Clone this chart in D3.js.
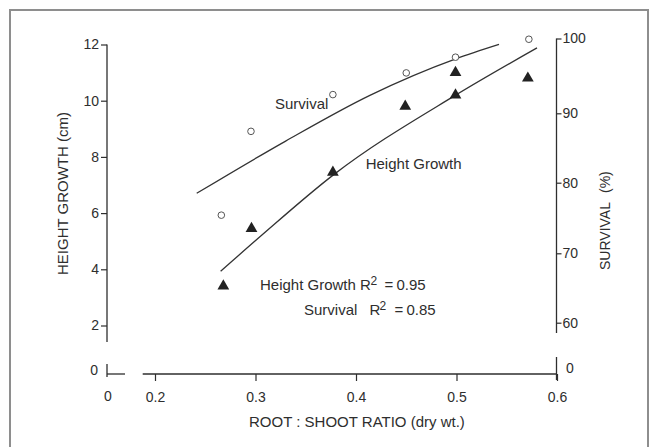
<!DOCTYPE html>
<html><head><meta charset="utf-8">
<script src="https://cdn.jsdelivr.net/npm/d3@7"></script>
<style>
html,body{margin:0;padding:0;background:#fff;}
svg{display:block;font-family:"Liberation Sans",Arial,Helvetica,sans-serif;}
</style></head><body>
<svg id="chart" width="653" height="447"></svg>
<script>
// ---- data ----
const xTicks = [0.2, 0.3, 0.4, 0.5, 0.6];
const heightTicks = [2, 4, 6, 8, 10, 12];
const survivalTicks = [60, 70, 80, 90, 100];

// Height growth observations (filled triangles), cm
const heightX   = [0.268, 0.296, 0.377, 0.449, 0.499, 0.499, 0.571];
const heightVal = [3.4, 5.45, 7.45, 9.8, 11.0, 10.2, 10.8];

// Survival observations (open circles), %
const survX   = [0.266, 0.2955, 0.377, 0.450, 0.499, 0.572];
const survVal = [75.4, 87.4, 92.5, 95.4, 97.5, 99.9];

// Fitted curves, points
const heightFitX   = [0.2653, 0.3061, 0.3775, 0.4983, 0.5801];
const heightFitVal = [3.93, 5.21, 7.36, 10.18, 11.88];
const survFitX   = [0.2415, 0.33, 0.4138, 0.4993, 0.5423];
const survFitVal = [78.5, 86.0, 92.4, 97.28, 99.2];

// ---- drawing ----
const ink = "#2e2e2e";
const svg = d3.select("#chart");
svg.append("rect").attr("width", 653).attr("height", 447).attr("fill", "#fff");
svg.append("rect").attr("x", 10).attr("y", 10).attr("width", 638).attr("height", 470)
  .attr("fill", "none").attr("stroke", "#8e8e8e").attr("stroke-width", 2);

const x  = d3.scaleLinear().domain([0.2, 0.6]).range([155, 557]);
const yH = d3.scaleLinear().domain([2, 12]).range([325.5, 44.5]);
const yS = d3.scaleLinear().domain([60, 70, 80, 90, 100]).range([322.7, 253.3, 182.7, 113.3, 38.5]);

const baseY = 374, leftX = 107, rightX = 556.5;

function styleAxis(g) {
  g.select(".domain").remove();
  g.selectAll("line").attr("stroke", ink).attr("stroke-width", 1.2);
  g.selectAll("text").attr("fill", ink).style("font-size", "14px")
    .style("font-family", '"Liberation Sans",Arial,sans-serif');
}

// left axis
const gL = svg.append("g").attr("transform", `translate(${leftX},0)`)
  .call(d3.axisLeft(yH).tickValues(heightTicks).tickSize(6).tickPadding(2));
styleAxis(gL);
svg.append("line").attr("x1", leftX).attr("x2", leftX).attr("y1", yH(12)).attr("y2", 342)
  .attr("stroke", ink).attr("stroke-width", 1.3);

// right axis
const gR = svg.append("g").attr("transform", `translate(${rightX},0)`)
  .call(d3.axisRight(yS).tickValues(survivalTicks).tickSize(5).tickPadding(1));
styleAxis(gR);
svg.append("line").attr("x1", rightX).attr("x2", rightX).attr("y1", yS(100)).attr("y2", 333)
  .attr("stroke", ink).attr("stroke-width", 1.3);

// bottom axis
const gB = svg.append("g").attr("transform", `translate(0,${baseY})`)
  .call(d3.axisBottom(x).tickValues(xTicks).tickSize(7).tickPadding(11).tickFormat(d3.format(".1f")));
styleAxis(gB);
svg.append("line").attr("x1", 142.7).attr("x2", x(0.6)).attr("y1", baseY).attr("y2", baseY)
  .attr("stroke", ink).attr("stroke-width", 1.3);

// broken-axis zero pieces
svg.append("line").attr("x1", leftX).attr("x2", leftX).attr("y1", 364).attr("y2", 377)
  .attr("stroke", ink).attr("stroke-width", 1.3);
svg.append("line").attr("x1", leftX).attr("x2", 125).attr("y1", baseY).attr("y2", baseY)
  .attr("stroke", ink).attr("stroke-width", 1.3);
svg.append("line").attr("x1", rightX).attr("x2", rightX).attr("y1", 357).attr("y2", 380)
  .attr("stroke", ink).attr("stroke-width", 1.3);

const zeroFont = t => t.attr("fill", ink).style("font-size", "14px");
svg.append("text").attr("x", 98).attr("y", 371).attr("dy", "0.32em").attr("text-anchor", "end").text("0").call(zeroFont);
svg.append("text").attr("x", 566).attr("y", 369).attr("dy", "0.32em").text("0").call(zeroFont);
svg.append("text").attr("x", leftX + 1).attr("y", 397).attr("dy", "0.32em").attr("text-anchor", "middle").text("0").call(zeroFont);

// axis titles
svg.append("text").attr("transform", "translate(68,193.5) rotate(-90)").attr("text-anchor", "middle")
  .attr("fill", ink).style("font-size", "15px").text("HEIGHT GROWTH (cm)");
const sl = svg.append("text").attr("transform", "translate(610,270) rotate(-90)")
  .attr("fill", ink).style("font-size", "14px");
sl.append("tspan").attr("x", 0).text("SURVIVAL");
sl.append("tspan").attr("x", 77).text("(%)");
svg.append("text").attr("x", 249).attr("y", 427).attr("fill", ink).style("font-size", "15px")
  .text("ROOT : SHOOT RATIO (dry wt.)");

// fitted curves
const lineH = d3.line().x(i => x(heightFitX[i])).y(i => yH(heightFitVal[i])).curve(d3.curveMonotoneX);
const lineS = d3.line().x(i => x(survFitX[i])).y(i => yS(survFitVal[i])).curve(d3.curveMonotoneX);
svg.append("path").attr("d", lineH(d3.range(heightFitX.length)))
  .attr("fill", "none").attr("stroke", "#333").attr("stroke-width", 1.3);
svg.append("path").attr("d", lineS(d3.range(survFitX.length)))
  .attr("fill", "none").attr("stroke", "#333").attr("stroke-width", 1.3);

// points
svg.append("g").selectAll("circle").data(d3.range(survX.length)).join("circle")
  .attr("cx", i => x(survX[i])).attr("cy", i => yS(survVal[i])).attr("r", 3.3)
  .attr("fill", "#fff").attr("stroke", "#555").attr("stroke-width", 1);
svg.append("g").selectAll("path").data(d3.range(heightX.length)).join("path")
  .attr("transform", i => `translate(${x(heightX[i])},${yH(heightVal[i])})`)
  .attr("d", d3.symbol(d3.symbolTriangle).size(60)).attr("fill", "#222");

// annotations
const ann = (xp, yp, t) => svg.append("text").attr("x", xp).attr("y", yp).attr("fill", ink)
  .style("font-size", "15px").text(t);
ann(275, 109, "Survival");
ann(365.7, 169, "Height Growth");

const r1 = svg.append("text").attr("y", 290).attr("fill", ink).style("font-size", "15px");
r1.append("tspan").attr("x", 260).text("Height Growth R");
r1.append("tspan").attr("x", 370.5).attr("y", 285).style("font-size", "12px").text("2");
r1.append("tspan").attr("x", 384.5).attr("y", 290).text("=");
r1.append("tspan").attr("x", 396.5).text("0.95");

const r2 = svg.append("text").attr("y", 315).attr("fill", ink).style("font-size", "15px");
r2.append("tspan").attr("x", 304).text("Survival");
r2.append("tspan").attr("x", 369.5).text("R");
r2.append("tspan").attr("x", 379.5).attr("y", 310).style("font-size", "12px").text("2");
r2.append("tspan").attr("x", 394.5).attr("y", 315).text("=");
r2.append("tspan").attr("x", 406.5).text("0.85");
</script>
</body></html>
